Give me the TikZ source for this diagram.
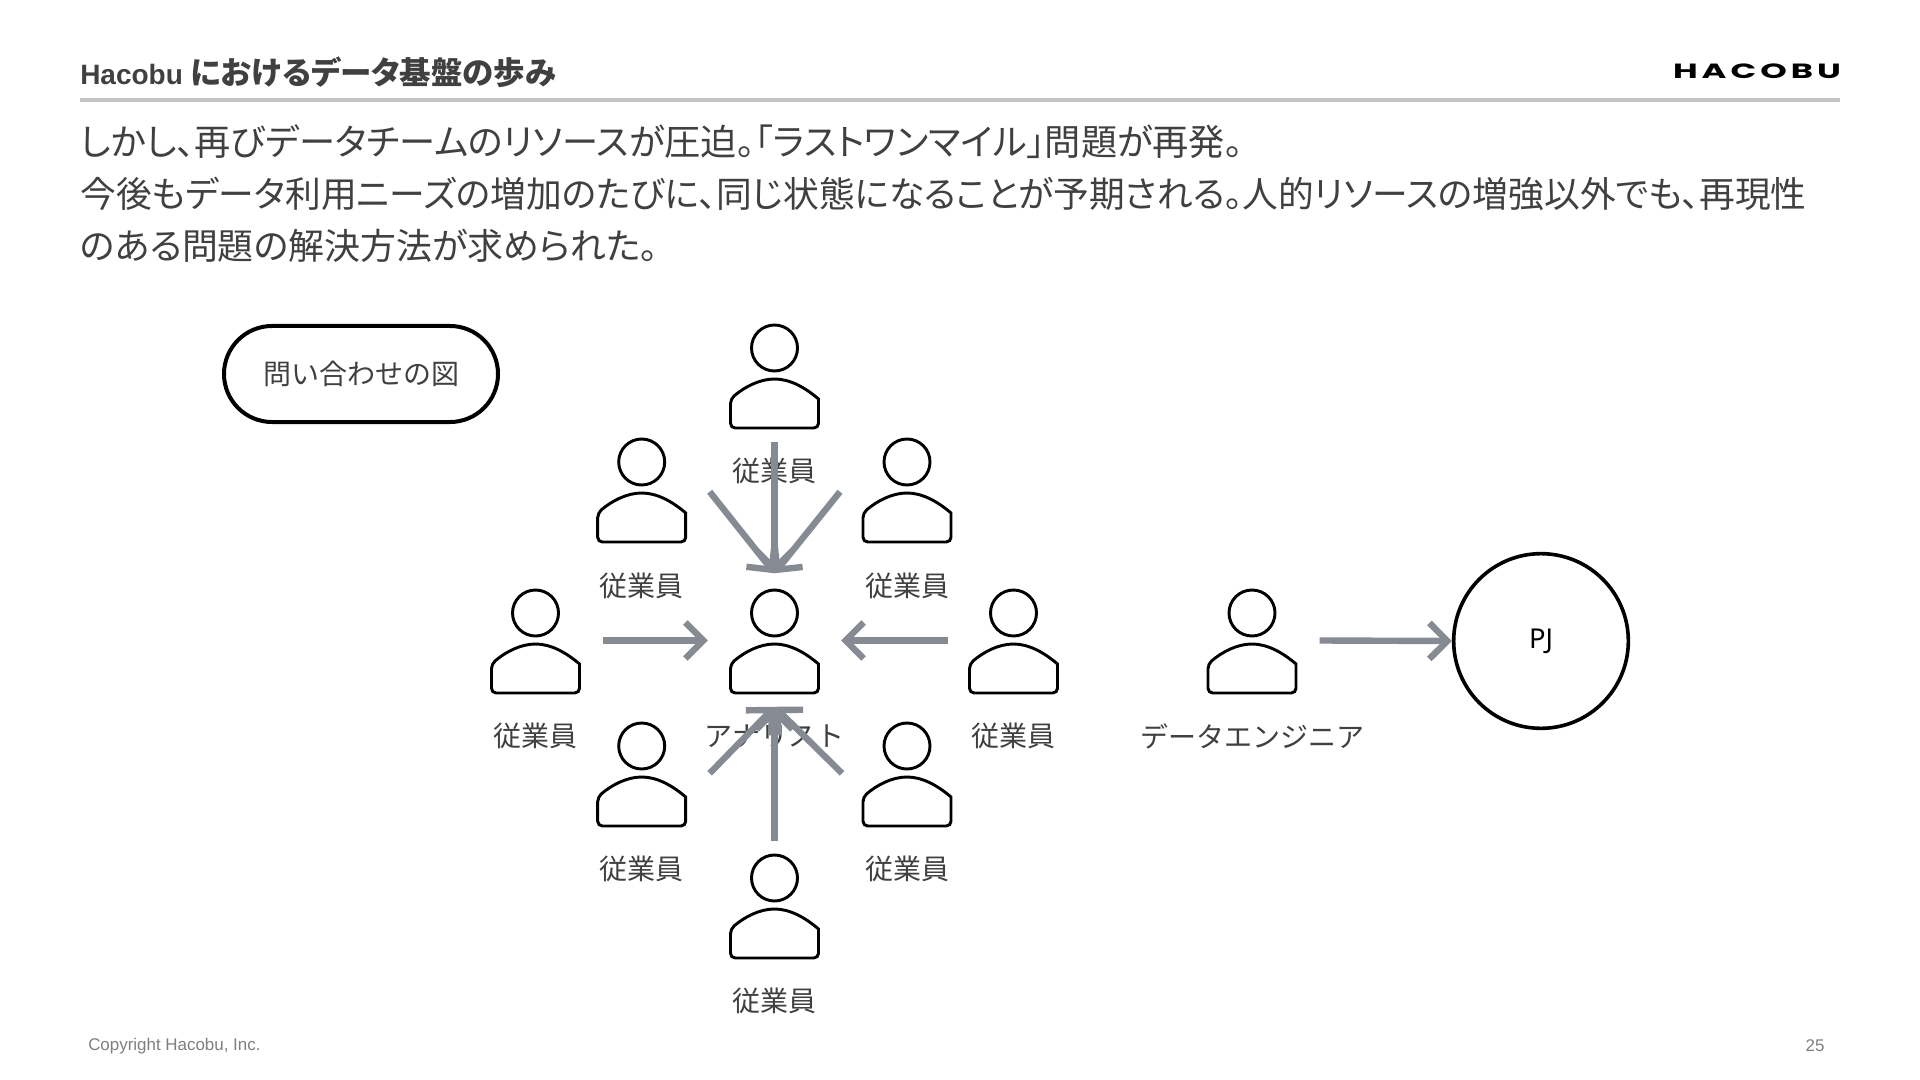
\documentclass[tikz,border=0pt]{standalone}
\usepackage{fontspec}
\usetikzlibrary{arrows.meta,calc}
\setmainfont{Noto Sans CJK JP}
\newfontfamily\jp[RawFeature=+palt]{Noto Sans CJK JP}
\newfontfamily\lat{Liberation Sans}
\newfontfamily\pjf{Noto Sans}
\newfontfamily\logof[LetterSpace=12]{Poppins}
\definecolor{ink}{HTML}{404040}
\definecolor{arr}{HTML}{868A93}
\definecolor{rulec}{HTML}{C4C4C4}
\definecolor{foot}{HTML}{7F7F7F}
\tikzset{
  px/.style={x=0.75pt,y=-0.75pt},
  title/.style={anchor=west,inner sep=0pt,text=ink,font=\jp\bfseries\fontsize{23.6}{23.6}\selectfont},
  bodytext/.style={anchor=west,inner sep=0pt,text=ink},
  lab/.style={inner sep=0pt,text=ink,font=\normalfont\fontsize{21}{21}\selectfont},
  icon/.style={draw=black,line width=2.2pt,fill=white},
  personbox/.style={minimum width=68pt,minimum height=78pt,inner sep=0pt},
  conn/.style={draw=arr,line width=4.8pt,-{Straight Barb[length=13.5pt,width=27pt,line width=4.8pt]}},
  foottext/.style={inner sep=0pt,text=foot,font=\lat\fontsize{12.7}{12.7}\selectfont}
}
\newcommand{\bodysize}[1]{\jp\fontsize{#1}{#1}\selectfont}
\newcommand{\person}[5]{%
  \begin{scope}[shift={(#2,#3)}]
    \draw[icon] (0,0) circle (23);
    \draw[icon] (-44,51) .. controls (-30,39) and (-15,31) .. (0,31)
      .. controls (15,31) and (30,39) .. (44,51)
      [rounded corners=3.5pt] -- (44,80) -- (-44,80) -- cycle;
    \node[personbox] (#1) at (0,27.5) {};
    \node[lab] (#1l) at (0,#5) {#4};
  \end{scope}}
\begin{document}
\begin{tikzpicture}[px]
\useasboundingbox (0,0) rectangle (1920,1080);
\fill[white] (0,0) rectangle (1920,1080);
\node[title] (ttl) at (80,72.5) {{\lat\bfseries\fontsize{21}{21}\selectfont Hacobu }におけるデータ基盤の歩み};
\coordinate (rl) at (80,100); \coordinate (rr) at (1840,100);
\draw[rulec,line width=3pt] (rl) -- (rr);
\node[inner sep=0pt] (logo) at (1757,71) {\resizebox{126pt}{11pt}{\logof\bfseries HACOBU}};
\node[bodytext,font=\bodysize{27.15}] (l1) at (80,142) {しかし、再びデータチームのリソースが圧迫。「ラストワンマイル」問題が再発。};
\node[bodytext,font=\bodysize{26.8}] (l2) at (80,194) {今後もデータ利用ニーズの増加のたびに、同じ状態になることが予期される。人的リソースの増強以外でも、再現性};
\node[bodytext,font=\bodysize{26.95}] (l3) at (80,246) {のある問題の解決方法が求められた。};
\draw[black,line width=3pt,rounded corners=36pt] (224,326) rectangle (498,422);
\node[lab] (q) at (361,374) {問い合わせの図};
\person{top}{774.5}{348}{従業員}{123}
\person{ul}{641.7}{462}{従業員}{123.5}
\person{ur}{907}{462}{従業員}{123.5}
\person{left}{535.5}{613}{従業員}{123}
\person{analyst}{774.5}{613}{アナリスト}{123}
\person{right}{1013.5}{613}{従業員}{123}
\person{bl}{641.7}{746}{従業員}{123}
\person{br}{907}{746}{従業員}{123}
\person{bot}{774.5}{878}{従業員}{123}
\person{de}{1252}{613}{データエンジニア}{123}
\node[circle,draw=black,line width=2.7pt,inner sep=0pt,minimum size=131pt,font=\pjf\fontsize{20.5}{20.5}\selectfont,text=black] (pj) at (1541,641) {\raisebox{-4pt}{PJ}};
\draw[conn] ([shift={(0,14)}]top.south) -- ([shift={(0,-15)}]analyst.north);
\draw[conn] ([shift={(-67,-50)}]ur.south) -- ([shift={(0,-15)}]analyst.north);
\draw[conn] ([shift={(68,-50)}]ul.south) -- ([shift={(0,-15)}]analyst.north);
\draw[conn] ([shift={(68,-52.5)}]bl.south) -- ([shift={(0,14)}]analyst.south);
\draw[conn] ([shift={(-65,-52.5)}]br.south) -- ([shift={(0,14)}]analyst.south);
\draw[conn] ([shift={(0,-12)}]bot.north) -- ([shift={(0,14)}]analyst.south);
\draw[conn] ([shift={(22,0)}]left.east) -- ([shift={(-21,0)}]analyst.west);
\draw[conn] ([shift={(-20,0)}]right.west) -- ([shift={(21,0)}]analyst.east);
\draw[conn] ([shift={(22,0)}]de.east) -- (pj.west);
\node[foottext,anchor=west] (cp) at (88,1046) {Copyright Hacobu, Inc.};
\node[foottext] (pg) at (1815,1046) {25};
\end{tikzpicture}
\end{document}
